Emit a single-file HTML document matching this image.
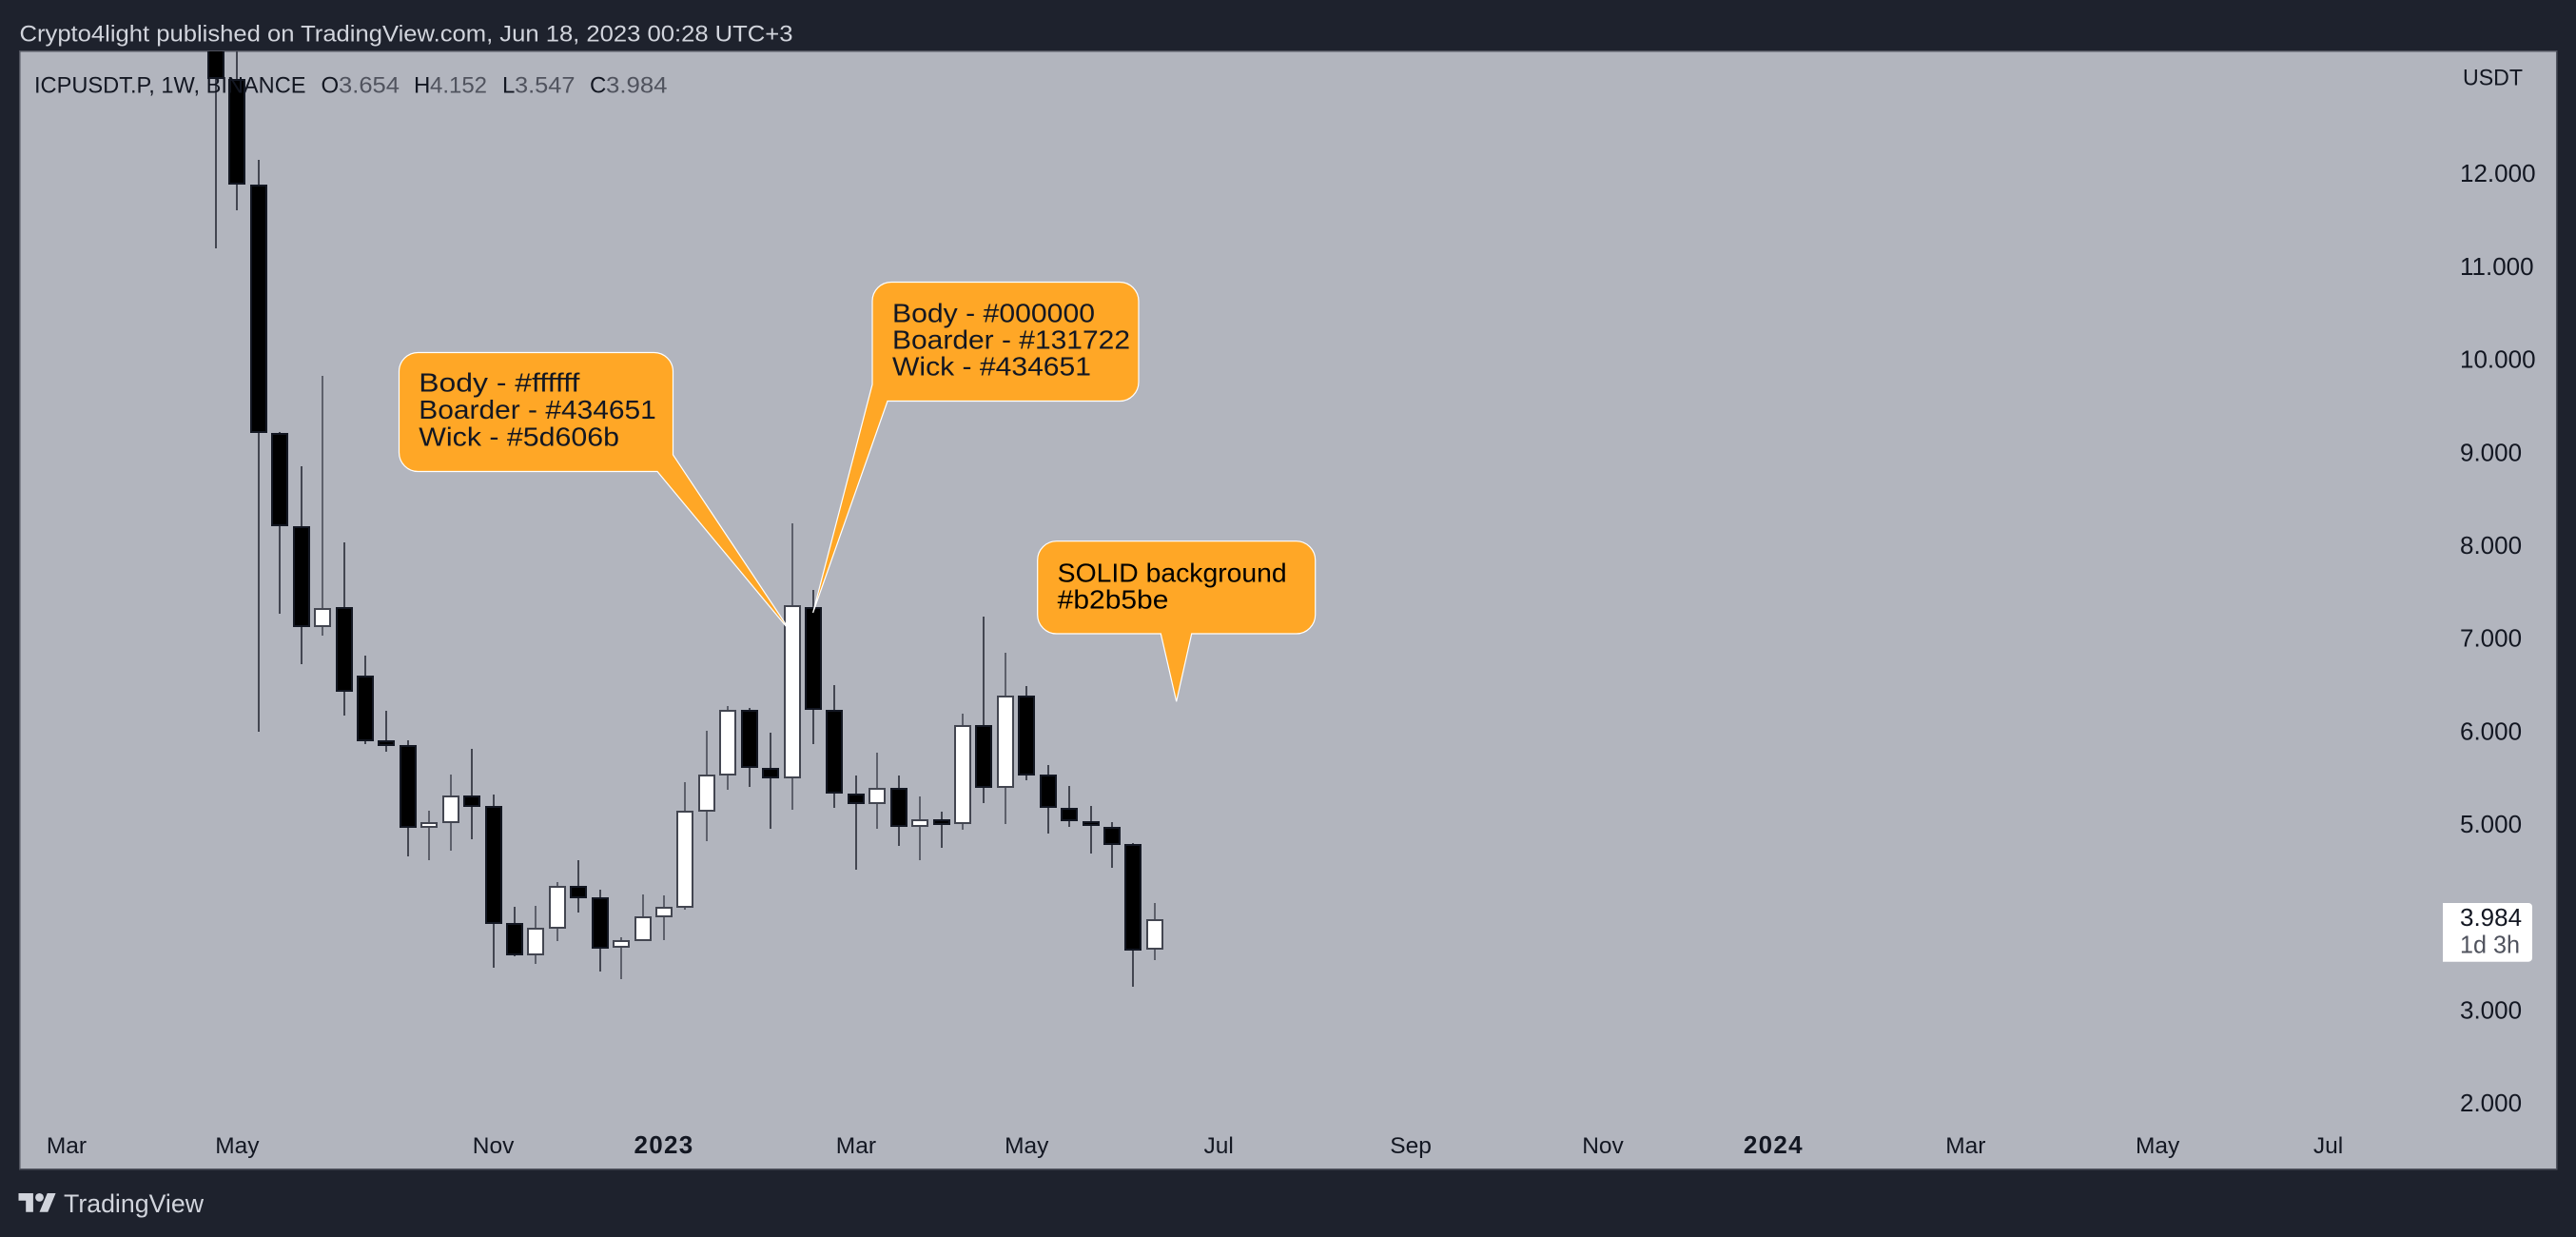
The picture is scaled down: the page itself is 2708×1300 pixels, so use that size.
<!DOCTYPE html>
<html lang="en">
<head>
<meta charset="utf-8">
<title>ICPUSDT.P weekly chart</title>
<style>
html,body{margin:0;padding:0;background:#1e222d;width:2708px;height:1300px;overflow:hidden}
svg{display:block;font-family:"Liberation Sans",sans-serif}
.ax{font-size:26px;fill:#131722}
.tm{font-size:24.5px;fill:#131722}
.co{font-size:28px;fill:#131722}
.lg{font-size:24px;fill:#131722}
.lv{font-size:24px;fill:#50535e}
</style>
</head>
<body>
<svg id="chart" xmlns="http://www.w3.org/2000/svg" width="2708" height="1300" viewBox="0 0 2708 1300">
  <defs>
    <clipPath id="plot-clip"><rect x="21" y="54" width="2667" height="1175"/></clipPath>
  </defs>
  <rect x="0" y="0" width="2708" height="1300" fill="#1e222d"/>
  <text x="20.5" y="43.5" font-size="24" fill="#d1d4dc" textLength="813" lengthAdjust="spacingAndGlyphs">Crypto4light published on TradingView.com, Jun 18, 2023 00:28 UTC+3</text>
  <rect x="20.75" y="53.75" width="2667" height="1175" fill="#b2b5be" stroke="#50535e" stroke-width="1.5"/>

  <g id="candles" clip-path="url(#plot-clip)" shape-rendering="crispEdges"></g>

  <g>
    <text class="lg" x="36" y="97.5" textLength="285.5" lengthAdjust="spacingAndGlyphs">ICPUSDT.P, 1W, BINANCE</text>
    <text class="lg" x="337.5" y="97.5">O</text>
    <text class="lv" x="356" y="97.5" textLength="64" lengthAdjust="spacingAndGlyphs">3.654</text>
    <text class="lg" x="435" y="97.5">H</text>
    <text class="lv" x="452" y="97.5" textLength="60" lengthAdjust="spacingAndGlyphs">4.152</text>
    <text class="lg" x="528" y="97.5">L</text>
    <text class="lv" x="541" y="97.5" textLength="63.5" lengthAdjust="spacingAndGlyphs">3.547</text>
    <text class="lg" x="620" y="97.5">C</text>
    <text class="lv" x="637" y="97.5" textLength="64.5" lengthAdjust="spacingAndGlyphs">3.984</text>
  </g>

  <g id="callouts">
    <g>
      <path fill="#ffa726" stroke="#ffffff" stroke-width="1.2" d="M439.5 370.5H687.5A20 20 0 0 1 707.5 390.5V478L832 665L691 495.5H439.5A20 20 0 0 1 419.5 475.5V390.5A20 20 0 0 1 439.5 370.5Z"/>
      <text class="co" x="440.3" y="411.7" textLength="169" lengthAdjust="spacingAndGlyphs">Body - #ffffff</text>
      <text class="co" x="440.3" y="440" textLength="249.5" lengthAdjust="spacingAndGlyphs">Boarder - #434651</text>
      <text class="co" x="440.3" y="468.3" textLength="210.7" lengthAdjust="spacingAndGlyphs">Wick - #5d606b</text>
    </g>
    <g>
      <path fill="#ffa726" stroke="#ffffff" stroke-width="1.2" d="M937 296.5H1177A20 20 0 0 1 1197 316.5V401.5A20 20 0 0 1 1177 421.5H933L854.6 644L917 404V316.5A20 20 0 0 1 937 296.5Z"/>
      <text class="co" x="938" y="338.3" textLength="213" lengthAdjust="spacingAndGlyphs">Body - #000000</text>
      <text class="co" x="938" y="366.5" textLength="250" lengthAdjust="spacingAndGlyphs">Boarder - #131722</text>
      <text class="co" x="938" y="394.5" textLength="209" lengthAdjust="spacingAndGlyphs">Wick - #434651</text>
    </g>
    <g>
      <path fill="#ffa726" stroke="#ffffff" stroke-width="1.2" d="M1110.7 568.7H1362.7A20 20 0 0 1 1382.7 588.7V646A20 20 0 0 1 1362.7 666H1252.7L1236.7 737.3L1220.3 666H1110.7A20 20 0 0 1 1090.7 646V588.7A20 20 0 0 1 1110.7 568.7Z"/>
      <text x="1111.7" y="611.7" font-size="28" fill="#000000" textLength="241" lengthAdjust="spacingAndGlyphs">SOLID background</text>
      <text x="1111.7" y="639.5" font-size="28" fill="#000000" textLength="116.7" lengthAdjust="spacingAndGlyphs">#b2b5be</text>
    </g>
  </g>

  <g id="price-axis">
    <text x="2589" y="89.3" font-size="24" fill="#131722" textLength="63" lengthAdjust="spacingAndGlyphs">USDT</text>
  </g>
  <g id="time-axis"></g>

  <g>
    <path fill="#ffffff" d="M2568 949H2658A4 4 0 0 1 2662 953V1006.7A4 4 0 0 1 2658 1010.7H2568Z"/>
    <text x="2586" y="973" font-size="26" fill="#131722">3.984</text>
    <text x="2586" y="1001.7" font-size="26" fill="#50535e" textLength="63" lengthAdjust="spacingAndGlyphs">1d 3h</text>
  </g>

  <g>
    <g fill="#d1d4dc" transform="translate(19.5 1249.6) scale(1.1)">
      <path d="M14 22H7V11H0V4h14v18zM28 22h-8l7.5-18h8L28 22z"/>
      <circle cx="20" cy="8" r="4"/>
    </g>
    <text x="67" y="1274" font-size="26.5" fill="#d1d4dc" textLength="147" lengthAdjust="spacingAndGlyphs">TradingView</text>
  </g>
</svg>

<script>
const opens  = [14.0,13.02,11.88,9.21,8.21,7.12,7.34,6.60,5.91,5.86,4.97,5.02,5.31,5.20,3.94,3.59,3.88,4.34,4.22,3.68,3.75,4.00,4.11,5.14,5.53,6.23,5.61,5.50,7.34,6.23,5.33,5.22,5.40,4.98,5.06,5.01,6.07,5.40,6.39,5.54,5.18,5.04,4.98,4.79,3.654];
const highs  = [14.5,14.0,12.15,9.22,8.85,9.83,8.04,6.82,6.22,5.91,5.15,5.54,5.81,5.32,4.12,4.13,4.38,4.62,4.30,3.79,4.25,4.24,5.46,6.01,6.28,6.25,5.99,8.24,7.52,6.50,5.53,5.77,5.53,5.30,5.14,6.19,7.24,6.85,6.49,5.64,5.42,5.20,5.03,4.80,4.152];
const lows   = [11.20,11.61,6.00,7.27,6.73,7.03,6.17,5.87,5.78,4.66,4.62,4.72,4.84,3.46,3.58,3.50,3.75,4.05,3.42,3.34,3.75,3.76,4.08,4.82,5.37,5.41,4.95,5.16,5.87,5.18,4.51,4.95,4.77,4.62,4.75,4.94,5.23,5.01,5.48,4.90,4.98,4.69,4.54,3.26,3.547];
const closes = [13.02,11.88,9.21,8.21,7.12,7.33,6.43,5.90,5.85,4.97,5.03,5.31,5.19,3.93,3.59,3.89,4.34,4.21,3.67,3.76,4.01,4.12,5.15,5.54,6.23,5.61,5.50,7.36,6.23,5.33,5.22,5.40,4.98,5.06,5.00,6.07,5.40,6.39,5.53,5.18,5.04,4.99,4.78,3.645,3.984];
const priceTicks = [12,11,10,9,8,7,6,5,4,3,2];
const timeTickLabels = ['Mar','May','Nov','2023','Mar','May','Jul','Sep','Nov','2024','Mar','May','Jul'];
const timeTickBars = [-7,1,13,21,30,38,47,56,65,73,82,91,99];

const SVG_NS = 'http://www.w3.org/2000/svg';
const xScale = function (bar) { return 227 + 22.43 * bar; };
const yScale = function (price) { return 1062 - (price - 3) * 97.7; };

function mk(tag, parent) {
  const el = document.createElementNS(SVG_NS, tag);
  parent.appendChild(el);
  return el;
}
function box(el, x, y, w, h, fill) {
  el.setAttribute('x', x);
  el.setAttribute('y', y);
  el.setAttribute('width', w);
  el.setAttribute('height', h);
  el.setAttribute('fill', fill);
}

const candleLayer = document.getElementById('candles');
opens.forEach(function (open, i) {
  const close = closes[i];
  const bull = close >= open;
  const cx = Math.round(xScale(i));
  const top = Math.round(yScale(Math.max(open, close)));
  const bottom = Math.max(top + 4, Math.round(yScale(Math.min(open, close))));
  const wickTop = Math.round(yScale(highs[i]));
  const wickBottom = Math.round(yScale(lows[i]));

  const group = mk('g', candleLayer);
  
  

  const wick = mk('rect', group);
  
  
  box(wick, cx - 1, wickTop, 2, wickBottom - wickTop, bull ? '#5d606b' : '#434651');

  const border = mk('rect', group);
  
  
  box(border, cx - 9, top, 18, bottom - top, bull ? '#434651' : '#131722');

  const body = mk('rect', group);
  
  
  box(body, cx - 7, top + 2, 14, Math.max(0, bottom - top - 4), bull ? '#ffffff' : '#000000');
});

const priceAxis = document.getElementById('price-axis');
priceTicks.forEach(function (price) {
  const label = mk('text', priceAxis);
  
  
  label.setAttribute('class', 'ax');
  label.setAttribute('x', 2586);
  label.setAttribute('y', (yScale(price) + 8.5).toFixed(1));
  label.textContent = price.toFixed(3);
});

const timeAxis = document.getElementById('time-axis');
timeTickLabels.forEach(function (text, i) {
  const label = mk('text', timeAxis);
  
  
  label.setAttribute('x', xScale(timeTickBars[i]).toFixed(1));
  label.setAttribute('y', 1212);
  label.setAttribute('text-anchor', 'middle');
  if (/^\d{4}$/.test(text)) {
    label.setAttribute('font-size', '26');
    label.setAttribute('font-weight', '700');
    label.setAttribute('letter-spacing', '1.3');
    label.setAttribute('fill', '#131722');
  } else {
    label.setAttribute('class', 'tm');
  }
  label.textContent = text;
});
</script>
</body>
</html>
